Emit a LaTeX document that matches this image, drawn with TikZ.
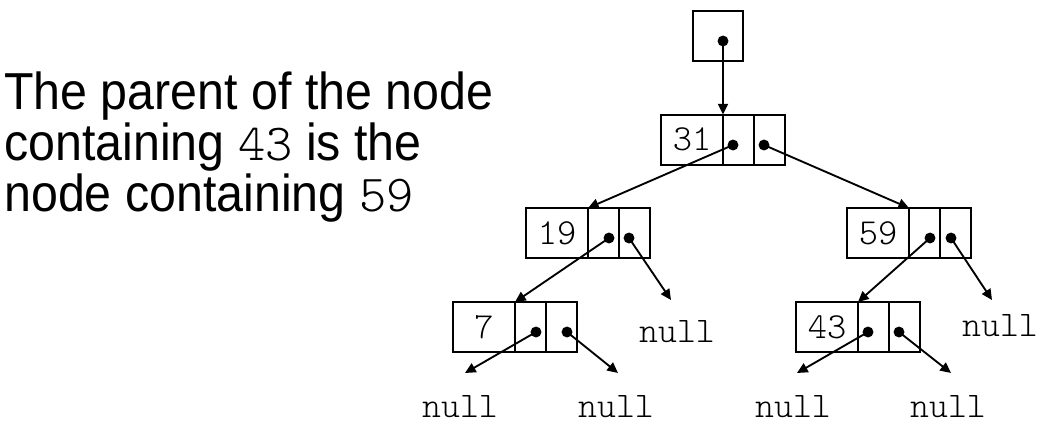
\documentclass[tikz,border=0pt]{standalone}
\usepackage{fontspec}
\setmainfont{Liberation Sans}
\newfontfamily\capfont[FakeStretch=0.93]{Liberation Sans}
\newfontfamily\lightmono{lmmonolt10-regular.otf}
\usetikzlibrary{positioning,arrows.meta}

\tikzset{
  datacell/.style={draw, line width=1.5pt, minimum width=46.5pt, minimum height=37.5pt,
    inner sep=0pt, outer sep=0pt, font=\lightmono\fontsize{27.5}{27.5}\selectfont},
  ptrcell/.style={draw, line width=1.5pt, minimum width=23.25pt, minimum height=37.5pt,
    inner sep=0pt, outer sep=0pt},
  ptrdot/.style={circle, fill, minimum size=8.2pt, inner sep=0pt},
  ptr/.style={-{Triangle[length=8pt,width=7.5pt]}, line width=1.4pt},
  nulltext/.style={font=\lightmono\fontsize{27}{27}\selectfont, anchor=base, inner sep=0pt}
}

\begin{document}
\begin{tikzpicture}[x=0.75pt,y=-0.75pt,node distance=0pt]
	\useasboundingbox (0,0) rectangle (1039,433);

	% caption
	\node[anchor=north west, align=left, inner sep=0pt, font=\capfont\fontsize{39}{37.9}\selectfont] (caption) at (4,72)
		{The parent of the node\\ containing {\lightmono 43} is the\\ node containing {\lightmono 59}};

	% root pointer
	\node[ptrcell, minimum width=37.5pt] (root) at (718,36) {};
	\node[ptrdot] (droot) at (723,41) {};

	% tree nodes
	\node[datacell] (n31a) at (692,139.5) {31};
	\node[ptrcell] (n31b) [right=of n31a] {};
	\node[ptrcell] (n31c) [right=of n31b] {};

	\node[datacell] (n19a) at (557,233) {19};
	\node[ptrcell] (n19b) [right=of n19a] {};
	\node[ptrcell] (n19c) [right=of n19b] {};

	\node[datacell] (n59a) at (878,233) {59};
	\node[ptrcell] (n59b) [right=of n59a] {};
	\node[ptrcell] (n59c) [right=of n59b] {};

	\node[datacell] (n7a) at (484,327) {7};
	\node[ptrcell] (n7b) [right=of n7a] {};
	\node[ptrcell] (n7c) [right=of n7b] {};

	\node[datacell] (n43a) at (827,327) {43};
	\node[ptrcell] (n43b) [right=of n43a] {};
	\node[ptrcell] (n43c) [right=of n43b] {};

	% pointer dots
	\node[ptrdot] (d31l) at (733,145) {};
	\node[ptrdot] (d31r) at (764,145) {};
	\node[ptrdot] (d19l) at (609,238) {};
	\node[ptrdot] (d19r) at (629,238) {};
	\node[ptrdot] (d59l) at (930,238) {};
	\node[ptrdot] (d59r) at (951,238) {};
	\node[ptrdot] (d7l) at (536,332) {};
	\node[ptrdot] (d7r) at (567,332) {};
	\node[ptrdot] (d43l) at (868,332) {};
	\node[ptrdot] (d43r) at (899,332) {};

	% null ends
	\coordinate (e19r) at (671,300);
	\coordinate (e59r) at (992,300);
	\coordinate (e7l) at (465,373);
	\coordinate (e7r) at (618,373);
	\coordinate (e43l) at (797,373);
	\coordinate (e43r) at (951,373);
	\node[nulltext] (null19r) at (677,342) {null};
	\node[nulltext] (null59r) at (1000,336) {null};
	\node[nulltext] (null7l) at (460,417) {null};
	\node[nulltext] (null7r) at (616,417) {null};
	\node[nulltext] (null43l) at (793,417) {null};
	\node[nulltext] (null43r) at (948,417) {null};

	% links
	\draw[ptr] (droot.center) -- (n31a.north east);
	\draw[ptr] (d31l.center) -- (n19a.north east);
	\draw[ptr] (d31r.center) -- (n59a.north east);
	\draw[ptr] (d19l.center) -- (n7a.north east);
	\draw[ptr] (d19r.center) -- (e19r);
	\draw[ptr] (d59l.center) -- (n43a.north east);
	\draw[ptr] (d59r.center) -- (e59r);
	\draw[ptr] (d7l.center) -- (e7l);
	\draw[ptr] (d7r.center) -- (e7r);
	\draw[ptr] (d43l.center) -- (e43l);
	\draw[ptr] (d43r.center) -- (e43r);
\end{tikzpicture}
\end{document}
